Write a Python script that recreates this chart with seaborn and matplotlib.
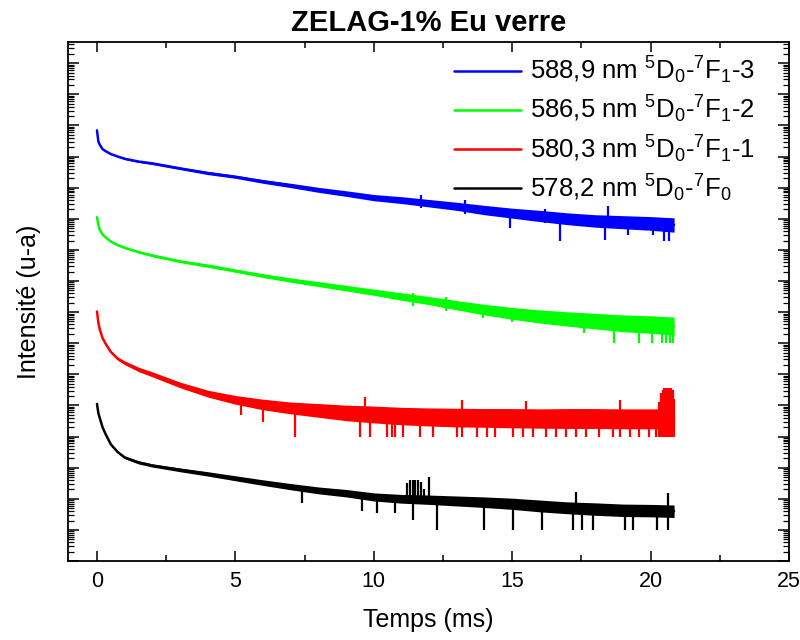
import numpy as np
import pandas as pd
import matplotlib
matplotlib.use("Agg")
import matplotlib.pyplot as plt
from matplotlib.ticker import LogLocator, NullFormatter, MultipleLocator
from matplotlib.lines import Line2D
import seaborn as sns

# ---------------- data (log10 of intensity) ----------------
time_ms = [0, 0.05, 0.1, 0.2, 0.3, 0.5, 0.75, 1, 1.5, 2, 3, 4, 5, 6, 7, 8, 9, 10,
           11, 12, 13, 14, 15, 16, 17, 18, 19, 20, 20.85]

blue_mid = [13.84, 13.48, 13.38, 13.24, 13.18, 13.08, 13.0, 12.93, 12.84, 12.78, 12.62, 12.47,
            12.35, 12.2, 12.07, 11.93, 11.81, 11.68, 11.6, 11.5, 11.4, 11.28, 11.18, 11.09,
            11.0, 10.93, 10.89, 10.85, 10.8]
blue_hw = [0, 0.01, 0.01, 0.01, 0.02, 0.02, 0.02, 0.03, 0.03, 0.04, 0.04, 0.05, 0.05, 0.06,
           0.07, 0.08, 0.09, 0.1, 0.11, 0.12, 0.13, 0.15, 0.16, 0.18, 0.19, 0.2, 0.21, 0.22, 0.23]

green_mid = [11.05, 10.8, 10.65, 10.5, 10.41, 10.27, 10.15, 10.07, 9.93, 9.82, 9.63, 9.49,
             9.33, 9.17, 9.03, 8.9, 8.77, 8.64, 8.5, 8.37, 8.22, 8.08, 7.96, 7.86, 7.78,
             7.71, 7.64, 7.6, 7.55]
green_hw = [0, 0.01, 0.01, 0.01, 0.02, 0.02, 0.02, 0.03, 0.03, 0.04, 0.04, 0.05, 0.05, 0.06,
            0.07, 0.08, 0.09, 0.1, 0.12, 0.13, 0.15, 0.17, 0.19, 0.21, 0.23, 0.25, 0.27, 0.28, 0.29]

red_mid = [8.02, 7.65, 7.45, 7.17, 7.0, 6.72, 6.5, 6.37, 6.16, 6.0, 5.66, 5.38, 5.18, 5.03,
           4.92, 4.84, 4.76, 4.71, 4.66, 4.63, 4.61, 4.6, 4.59, 4.58, 4.58, 4.58, 4.57, 4.57, 4.57]
red_hw = [0, 0.01, 0.01, 0.02, 0.03, 0.04, 0.05, 0.06, 0.07, 0.08, 0.09, 0.11, 0.14, 0.17,
          0.19, 0.22, 0.25, 0.27, 0.28, 0.29, 0.3, 0.3, 0.31, 0.31, 0.32, 0.32, 0.32, 0.32, 0.32]

black_mid = [5.05, 4.75, 4.6, 4.3, 4.1, 3.75, 3.5, 3.33, 3.17, 3.07, 2.93, 2.8, 2.66, 2.52,
             2.39, 2.27, 2.18, 2.06, 2.0, 1.97, 1.93, 1.89, 1.84, 1.77, 1.71, 1.67, 1.63, 1.62, 1.6]
black_hw = [0, 0.01, 0.01, 0.01, 0.02, 0.02, 0.03, 0.04, 0.05, 0.05, 0.06, 0.07, 0.08, 0.09,
            0.1, 0.11, 0.12, 0.13, 0.14, 0.15, 0.16, 0.17, 0.18, 0.19, 0.19, 0.2, 0.2, 0.2, 0.2]

# noise spikes: time, lower end, upper end (log10)
blue_spk_t = [11.7, 13.3, 14.92, 16.2, 16.73, 18.35, 18.47, 19.2, 20.1, 20.5, 20.65]
blue_spk_lo = [11.35, 11.15, 10.7, 10.85, 10.29, 10.32, 10.9, 10.48, 10.48, 10.27, 10.27]
blue_spk_hi = [11.75, 11.6, 11.2, 11.3, 11.05, 10.95, 11.41, 10.9, 10.85, 10.85, 10.85]

green_spk_t = [11.4, 12.6, 13.96, 15.0, 17.1, 17.58, 18.67, 19.57, 20.05, 20.4, 20.55, 20.7, 20.82]
green_spk_lo = [8.2, 8.05, 7.8, 7.69, 7.55, 7.32, 7.0, 7.0, 7.0, 7.0, 7.0, 7.0, 7.0]
green_spk_hi = [8.6, 8.5, 8.1, 7.96, 7.85, 7.75, 7.7, 7.65, 7.6, 7.6, 7.58, 7.57, 7.56]

red_spk_t = [5.2, 6.0, 7.15, 9.5, 9.68, 9.86, 10.46, 10.65, 10.76, 11.07, 11.67, 12.15, 13.0,
             13.17, 13.72, 14.08, 14.38, 15.04, 15.4, 15.5, 15.76, 16.24, 16.6, 16.96, 17.3,
             17.68, 18.15, 18.64, 18.88, 18.9, 19.24, 19.6, 19.96, 20.2,
             20.32, 20.38, 20.44, 20.5, 20.56, 20.62, 20.68, 20.74, 20.8, 20.85]
red_spk_lo = [4.7, 4.48, 4.0, 4.0, 4.6, 4.0, 4.0, 4.0, 4.0, 4.0, 4.0, 4.0, 4.0,
              4.0, 4.0, 4.0, 4.0, 4.0, 4.0, 4.5, 4.0, 4.0, 4.0, 4.0, 4.0,
              4.0, 4.0, 4.0, 4.0, 4.5, 4.0, 4.0, 4.0, 4.0,
              4.0, 4.0, 4.0, 4.0, 4.0, 4.0, 4.0, 4.0, 4.0, 4.0]
red_spk_hi = [5.2, 5.0, 4.9, 4.8, 5.28, 4.8, 4.75, 4.7, 4.7, 4.7, 4.7, 4.7, 4.7,
              5.18, 4.7, 4.7, 4.7, 4.7, 4.7, 5.13, 4.7, 4.7, 4.7, 4.7, 4.7,
              4.7, 4.7, 4.7, 4.7, 5.18, 4.7, 4.7, 4.7, 4.7,
              5.1, 5.4, 5.5, 5.55, 5.55, 5.55, 5.55, 5.55, 5.5, 5.2]

black_spk_t = [7.4, 9.56, 10.1, 10.76, 11.2, 11.3, 11.4, 11.43, 11.5, 11.6, 11.7, 11.8, 12.0,
               12.27, 13.99, 15.04, 16.07, 17.2, 17.3, 17.51, 17.93, 19.07, 19.38, 20.22, 20.64]
black_spk_lo = [1.86, 1.6, 1.55, 1.55, 2.0, 2.0, 2.0, 1.32, 2.0, 2.0, 2.0, 2.0, 2.0,
                1.0, 1.0, 1.0, 1.0, 1.0, 1.8, 1.0, 1.0, 1.0, 1.0, 1.0, 1.0]
black_spk_hi = [2.4, 2.2, 2.1, 2.05, 2.5, 2.6, 2.6, 2.1, 2.6, 2.6, 2.55, 2.3, 2.71,
                2.0, 1.95, 1.9, 1.85, 1.75, 2.23, 1.75, 1.72, 1.68, 1.66, 1.65, 2.18]

labels = [r"588,9 nm $^5$D$_0$-$^7$F$_1$-3",
          r"586,5 nm $^5$D$_0$-$^7$F$_1$-2",
          r"580,3 nm $^5$D$_0$-$^7$F$_1$-1",
          r"578,2 nm $^5$D$_0$-$^7$F$_0$"]
colors = ["#0000FF", "#00FF00", "#FF0000", "#000000"]

# ---------------- style ----------------
sns.set_theme(style="ticks")
plt.rcParams["font.family"] = ["Liberation Sans", "DejaVu Sans"]
plt.rcParams["mathtext.fontset"] = "custom"
plt.rcParams["mathtext.rm"] = "Liberation Sans"
plt.rcParams["mathtext.it"] = "Liberation Sans"
plt.rcParams["mathtext.default"] = "regular"
for k in ["text.color", "axes.labelcolor", "xtick.color", "ytick.color",
          "axes.edgecolor", "xtick.labelcolor", "ytick.labelcolor"]:
    plt.rcParams[k] = "black"

fig = plt.figure(figsize=(8, 6.4), dpi=100)
ax = fig.add_axes([0.0856, 0.1234, 0.9006, 0.8109])

series = [
    (blue_mid, blue_hw, blue_spk_t, blue_spk_lo, blue_spk_hi),
    (green_mid, green_hw, green_spk_t, green_spk_lo, green_spk_hi),
    (red_mid, red_hw, red_spk_t, red_spk_lo, red_spk_hi),
    (black_mid, black_hw, black_spk_t, black_spk_lo, black_spk_hi),
]

frames = []
for lab, (mid, hw, *_r) in zip(labels, series):
    frames.append(pd.DataFrame({"t": time_ms, "I": 10 ** np.array(mid), "s": lab}))
df = pd.concat(frames, ignore_index=True)

for lab, col, (mid, hw, st, slo, shi) in zip(labels, colors, series):
    mid = np.array(mid)
    hw = np.array(hw)
    ax.fill_between(time_ms, 10 ** (mid - hw), 10 ** (mid + hw), color=col, lw=0, zorder=2)
    ax.vlines(st, 10 ** np.array(slo), 10 ** np.array(shi), color=col, lw=1.6, zorder=2)

sns.lineplot(data=df, x="t", y="I", hue="s", palette=colors, hue_order=labels,
             lw=1.8, ax=ax, legend=False, zorder=3)

ax.set_yscale("log")
ax.set_ylim(1, 10 ** 16.68)
ax.set_xlim(-1.03, 25)

ax.yaxis.set_major_locator(LogLocator(base=10, numticks=40))
ax.yaxis.set_minor_locator(LogLocator(base=10, subs=np.arange(2, 10), numticks=200))
ax.yaxis.set_major_formatter(NullFormatter())
ax.yaxis.set_minor_formatter(NullFormatter())
ax.xaxis.set_major_locator(MultipleLocator(5))
ax.xaxis.set_minor_locator(MultipleLocator(2.5))

ax.tick_params(axis="both", which="both", direction="in", top=True, right=True,
               colors="black")
ax.tick_params(axis="y", which="major", length=8, width=1.1)
ax.tick_params(axis="y", which="minor", length=4, width=0.9)
ax.tick_params(axis="x", which="major", length=7, width=1.1, labelsize=15.5, pad=7)
ax.tick_params(axis="x", which="minor", length=4, width=1.1)
for sp in ax.spines.values():
    sp.set_linewidth(1.3)
    sp.set_color("black")

ax.set_xlabel("Temps (ms)", fontsize=18, labelpad=12)
ax.set_ylabel("Intensité (u-a)", fontsize=18, labelpad=16)
ax.set_title("ZELAG-1% Eu verre", fontsize=21, fontweight="bold", pad=8)

handles = [Line2D([0], [0], color=c, lw=1.8) for c in colors]
ax.legend(handles, labels, loc="upper right", frameon=False, fontsize=18.5,
          handlelength=2.6, handletextpad=0.35, labelspacing=0.3,
          borderaxespad=0.0, bbox_to_anchor=(0.967, 0.995))

fig.savefig("out.png", dpi=100)
